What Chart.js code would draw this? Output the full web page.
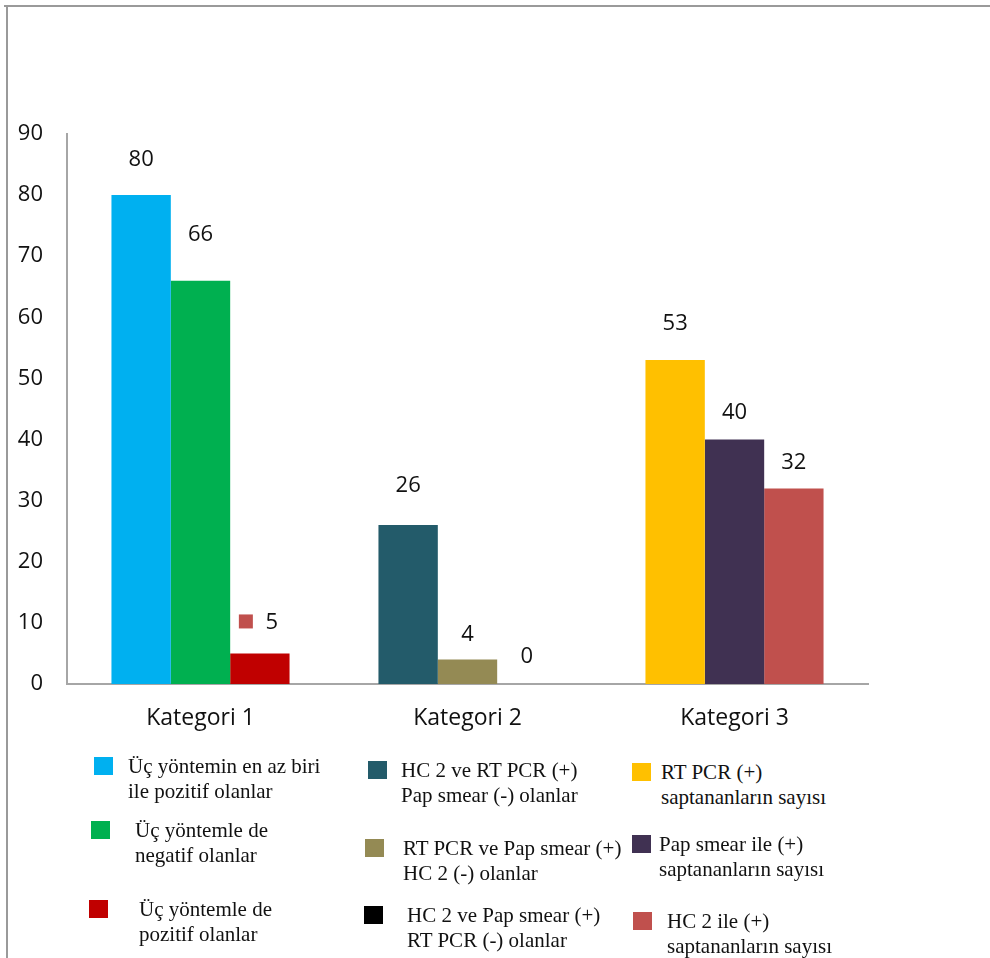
<!DOCTYPE html>
<html>
<head>
<meta charset="utf-8">
<script src="https://cdn.jsdelivr.net/npm/chart.js@4"></script>
<style>
  body { margin: 0; background: #fff; }
  #wrap { position: relative; width: 990px; height: 958px; overflow: hidden; }
  #frameTop { position: absolute; left: 4px; top: 5px; width: 990px; height: 2px; background: #9a9a9a; }
  #frameLeft { position: absolute; left: 6px; top: 5px; width: 2px; height: 960px; background: #9a9a9a; }
  #chart { position: absolute; left: 0; top: 0; }
  .key { position: absolute; font-family: "Liberation Serif", "Times New Roman", serif; font-size: 21px; line-height: 24.5px; color: #111; }
  .key i { position: absolute; top: 0; width: 19px; height: 18px; }
  .key span { display: block; white-space: nowrap; }
</style>
</head>
<body>
<div id="wrap">
  <div id="frameTop"></div>
  <div id="frameLeft"></div>
  <canvas id="chart" width="990" height="760"></canvas>
  <div id="legend"></div>
</div>
<script>
// categories and values
const categories = ["Kategori 1", "Kategori 2", "Kategori 3"];
const firstBars  = [80, 26, 53];
const secondBars = [66, 4, 40];
const thirdBars  = [5, 0, 32];

const yTicks = [0, 10, 20, 30, 40, 50, 60, 70, 80, 90];

// one colour per bar, per category
const firstColors  = ['#00B0F0', '#235B6A', '#FFC000'];
const secondColors = ['#00B050', '#948A54', '#403152'];
const thirdColors  = ['#C00000', '#000000', '#C0504D'];

// legend texts, one column per category
const legendTexts = [
  [["Üç yöntemin en az biri", "ile pozitif olanlar"],
   ["Üç yöntemle de", "negatif olanlar"],
   ["Üç yöntemle de", "pozitif olanlar"]],
  [["HC 2 ve RT PCR (+)", "Pap smear (-) olanlar"],
   ["RT PCR ve Pap smear (+)", "HC 2 (-) olanlar"],
   ["HC 2 ve Pap smear (+)", "RT PCR (-) olanlar"]],
  [["RT PCR (+)", "saptananların sayısı"],
   ["Pap smear ile (+)", "saptananların sayısı"],
   ["HC 2 ile (+)", "saptananların sayısı"]]
];

const allColors = [firstColors, secondColors, thirdColors];

// how far each value label sits above its bar (px), dataset by category
const labelLift = [[35, 39, 36], [46, 25, 27], [31, 27, 26]];

const barLabels = {
  id: 'barLabels',
  afterDatasetsDraw(chart) {
    const ctx = chart.ctx;
    ctx.save();
    ctx.font = '22px "Open Sans", sans-serif';
    ctx.fillStyle = '#111';
    ctx.textAlign = 'center';
    ctx.textBaseline = 'middle';
    chart.data.datasets.forEach((ds, i) => {
      chart.getDatasetMeta(i).data.forEach((bar, j) => {
        let x = bar.x;
        const y = bar.y - labelLift[i][j];
        if (i === 2 && j === 0) {
          // stray legend key drawn in the label
          ctx.fillStyle = '#C0504D';
          ctx.fillRect(x - 21, y - 8, 14, 14);
          ctx.fillStyle = '#111';
          x += 12;
        }
        ctx.fillText(String(ds.data[j]), x, y);
      });
    });
    ctx.restore();
  }
};

new Chart(document.getElementById('chart'), {
  type: 'bar',
  data: {
    labels: categories,
    datasets: [
      { data: firstBars, backgroundColor: firstColors },
      { data: secondBars, backgroundColor: secondColors },
      { data: thirdBars, backgroundColor: thirdColors }
    ]
  },
  options: {
    responsive: false,
    devicePixelRatio: 1,
    animation: false,
    categoryPercentage: 0.667,
    barPercentage: 1,
    layout: { padding: { left: 0, top: 134, right: 122, bottom: 0 } },
    plugins: { legend: { display: false }, tooltip: { enabled: false } },
    scales: {
      x: {
        grid: { display: false, drawTicks: false },
        border: { display: true, color: '#a6a6a6', width: 2 },
        ticks: { color: '#111', padding: 21, font: { family: '"Open Sans", sans-serif', size: 23 } },
        afterFit(scale) { scale.height = 76; }
      },
      y: {
        min: 0, max: 90,
        grid: { display: false, drawTicks: false },
        border: { display: true, color: '#a6a6a6', width: 2 },
        afterBuildTicks(scale) { scale.ticks = yTicks.map(v => ({ value: v })); },
        ticks: { color: '#111', padding: 24, font: { family: '"Open Sans", sans-serif', size: 22 } },
        afterFit(scale) { scale.width = 67; }
      }
    }
  },
  plugins: [barLabels]
});

// legend layout: [box left, text left, top] for each key, column by row
const keySpots = [
  [[94, 128, 757], [91, 135, 821], [89, 139, 900]],
  [[368, 401, 761], [365, 403, 839], [364, 407, 906]],
  [[632, 661, 763], [632, 659, 835], [633, 667, 912]]
];
const legend = document.getElementById('legend');
legendTexts.forEach((col, c) => {
  col.forEach((lines, r) => {
    const [bx, tx, top] = keySpots[c][r];
    const item = document.createElement('div');
    item.className = 'key';
    item.style.left = bx + 'px';
    item.style.top = (top - 3) + 'px';
    item.style.paddingLeft = (tx - bx) + 'px';
    const box = document.createElement('i');
    box.style.background = allColors[r][c];
    box.style.left = '0px';
    box.style.top = '3px';
    item.appendChild(box);
    lines.forEach(t => {
      const s = document.createElement('span');
      s.textContent = t;
      item.appendChild(s);
    });
    legend.appendChild(item);
  });
});
</script>
</body>
</html>
